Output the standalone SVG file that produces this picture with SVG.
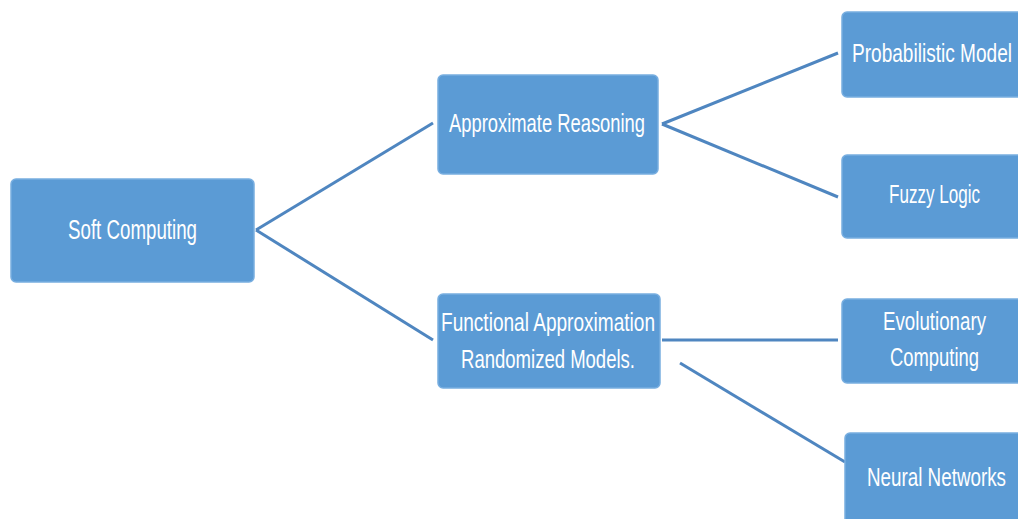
<svg xmlns="http://www.w3.org/2000/svg" width="1018" height="519" viewBox="0 0 1018 519">
<style>
.box{fill:#5b9bd5;stroke:#78aee0;stroke-width:1.5}
.t{fill:#ffffff;font-family:"Liberation Sans Narrow","Liberation Sans",Arial,sans-serif;font-size:26px}
.c{stroke:#4f86c0;stroke-width:3;fill:none}
</style>
<rect width="1018" height="519" fill="#ffffff"/>
<g id="connectors">
<line class="c" x1="256" y1="230" x2="433" y2="123"/>
<line class="c" x1="256" y1="230" x2="433" y2="340"/>
<line class="c" x1="662" y1="124" x2="838" y2="53"/>
<line class="c" x1="662" y1="124" x2="838" y2="197"/>
<line class="c" x1="662" y1="340" x2="838" y2="340"/>
<line class="c" x1="680" y1="363" x2="845" y2="462"/>
</g>
<g id="soft-computing">
<rect class="box" x="11" y="179" width="243" height="103" rx="5"/>
<text class="t" x="68" y="239" textLength="129" lengthAdjust="spacingAndGlyphs" style="font-size:27px">Soft Computing</text>
</g>
<g id="approximate-reasoning">
<rect class="box" x="438" y="75" width="220" height="99" rx="5"/>
<text class="t" x="449" y="132" textLength="196" lengthAdjust="spacingAndGlyphs">Approximate Reasoning</text>
</g>
<g id="functional-approximation">
<rect class="box" x="438" y="294" width="222" height="94" rx="5"/>
<text class="t" x="441" y="331" textLength="214" lengthAdjust="spacingAndGlyphs">Functional Approximation</text>
<text class="t" x="461" y="368" textLength="174" lengthAdjust="spacingAndGlyphs">Randomized Models.</text>
</g>
<g id="probabilistic-model">
<rect class="box" x="842" y="12" width="190" height="85" rx="5"/>
<text class="t" x="852" y="62" textLength="160" lengthAdjust="spacingAndGlyphs">Probabilistic Model</text>
</g>
<g id="fuzzy-logic">
<rect class="box" x="842" y="155" width="190" height="83" rx="5"/>
<text class="t" x="889" y="203" textLength="91" lengthAdjust="spacingAndGlyphs">Fuzzy Logic</text>
</g>
<g id="evolutionary-computing">
<rect class="box" x="842" y="299" width="190" height="84" rx="5"/>
<text class="t" x="883" y="330" textLength="103" lengthAdjust="spacingAndGlyphs">Evolutionary</text>
<text class="t" x="890" y="366" textLength="89" lengthAdjust="spacingAndGlyphs">Computing</text>
</g>
<g id="neural-networks">
<rect class="box" x="845" y="433" width="190" height="100" rx="5"/>
<text class="t" x="867" y="486" textLength="139" lengthAdjust="spacingAndGlyphs">Neural Networks</text>
</g>
</svg>
